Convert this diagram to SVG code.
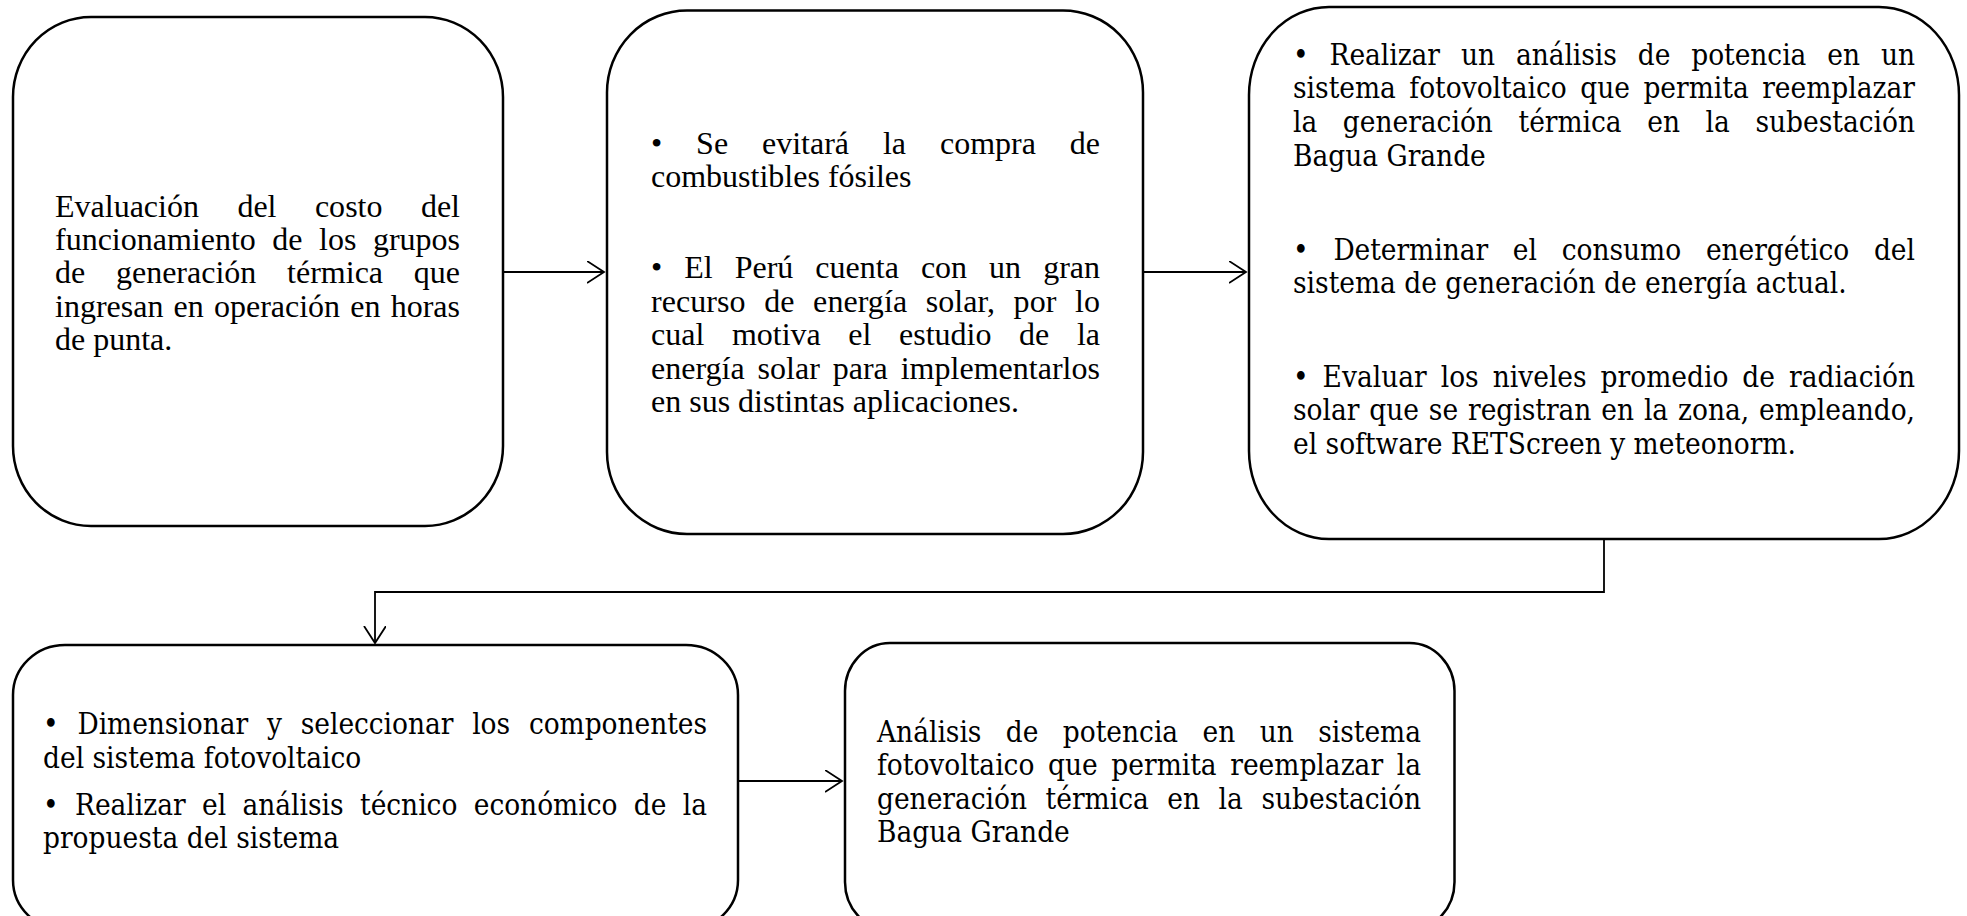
<svg xmlns="http://www.w3.org/2000/svg" width="1967" height="916" viewBox="0 0 1967 916">
<style>
.box{fill:#fff;stroke:#000;stroke-width:2.5}
.con{fill:none;stroke:#000;stroke-width:1.8}
.t{font-family:"Liberation Serif","Times New Roman",serif;font-size:32px;fill:#000}
.c{font-family:"DejaVu Serif","Liberation Serif",serif;font-size:29.44px;fill:#000}
</style>
<defs>
<marker id="ah" markerUnits="userSpaceOnUse" markerWidth="24" markerHeight="28" refX="17" refY="11" orient="auto">
<path d="M0,0 L17,11 L0,22" fill="none" stroke="#000" stroke-width="1.8"/>
</marker>
</defs>
<rect width="1967" height="916" fill="#fff"/>
<g id="connectors">
<path class="con" d="M503,272 H604" marker-end="url(#ah)"/>
<path class="con" d="M1143,272 H1246" marker-end="url(#ah)"/>
<path class="con" d="M1604,539 V592 H375 V643" marker-end="url(#ah)"/>
<path class="con" d="M738,781 H842" marker-end="url(#ah)"/>
</g>
<g id="node1">
<rect class="box" x="13" y="17" width="490" height="509" rx="78" ry="80"/>
<text class="t" x="55" y="217" word-spacing="30.4" textLength="405">Evaluación del costo del</text>
<text class="t" x="55" y="250" word-spacing="8.5" textLength="405">funcionamiento de los grupos</text>
<text class="t" x="55" y="283" word-spacing="22.7" textLength="405">de generación térmica que</text>
<text class="t" x="55" y="316.5" word-spacing="2.2" textLength="405">ingresan en operación en horas</text>
<text class="t" x="55" y="350">de punta.</text>
</g>
<g id="node2">
<rect class="box" x="607" y="10.5" width="536" height="523.5" rx="80" ry="82"/>
<text class="t" x="651" y="154" word-spacing="25.9" textLength="449">• Se evitará la compra de</text>
<text class="t" x="651" y="187">combustibles fósiles</text>
<text class="t" x="651" y="278" word-spacing="14" textLength="449">• El Perú cuenta con un gran</text>
<text class="t" x="651" y="311.5" word-spacing="10.5" textLength="449">recurso de energía solar, por lo</text>
<text class="t" x="651" y="345" word-spacing="19.6" textLength="449">cual motiva el estudio de la</text>
<text class="t" x="651" y="378.5" word-spacing="4.8" textLength="449">energía solar para implementarlos</text>
<text class="t" x="651" y="412">en sus distintas aplicaciones.</text>
</g>
<g id="node3">
<rect class="box" x="1249" y="7" width="710" height="532" rx="80" ry="88"/>
<g transform="translate(1293,0) scale(0.9,1)">
<text class="c" x="0" y="65" word-spacing="14" textLength="691.1">• Realizar un análisis de potencia en un</text>
<text class="c" x="0" y="98.5" word-spacing="5.6" textLength="691.1">sistema fotovoltaico que permita reemplazar</text>
<text class="c" x="0" y="132" word-spacing="19.1" textLength="691.1">la generación térmica en la subestación</text>
<text class="c" x="0" y="166">Bagua Grande</text>
<text class="c" x="0" y="260" word-spacing="18.3" textLength="691.1">• Determinar el consumo energético del</text>
<text class="c" x="0" y="293.5">sistema de generación de energía actual.</text>
<text class="c" x="0" y="387" word-spacing="6.2" textLength="691.1">• Evaluar los niveles promedio de radiación</text>
<text class="c" x="0" y="420.5" word-spacing="1.7" textLength="691.1">solar que se registran en la zona, empleando,</text>
<text class="c" x="0" y="454">el software RETScreen y meteonorm.</text>
</g>
</g>
<g id="node4">
<rect class="box" x="13" y="645" width="725" height="285" rx="52" ry="50"/>
<g transform="translate(43,0) scale(0.9,1)">
<text class="c" x="0" y="734" word-spacing="11.7" textLength="737.8">• Dimensionar y seleccionar los componentes</text>
<text class="c" x="0" y="768">del sistema fotovoltaico</text>
<text class="c" x="0" y="815" word-spacing="8.9" textLength="737.8">• Realizar el análisis técnico económico de la</text>
<text class="c" x="0" y="848">propuesta del sistema</text>
</g>
</g>
<g id="node5">
<rect class="box" x="845" y="643" width="609.5" height="287" rx="45" ry="48"/>
<g transform="translate(877,0) scale(0.9,1)">
<text class="c" x="0" y="742" word-spacing="17.8" textLength="604.4">Análisis de potencia en un sistema</text>
<text class="c" x="0" y="775" word-spacing="5.8" textLength="604.4">fotovoltaico que permita reemplazar la</text>
<text class="c" x="0" y="809" word-spacing="11.3" textLength="604.4">generación térmica en la subestación</text>
<text class="c" x="0" y="842.5">Bagua Grande</text>
</g>
</g>
</svg>
